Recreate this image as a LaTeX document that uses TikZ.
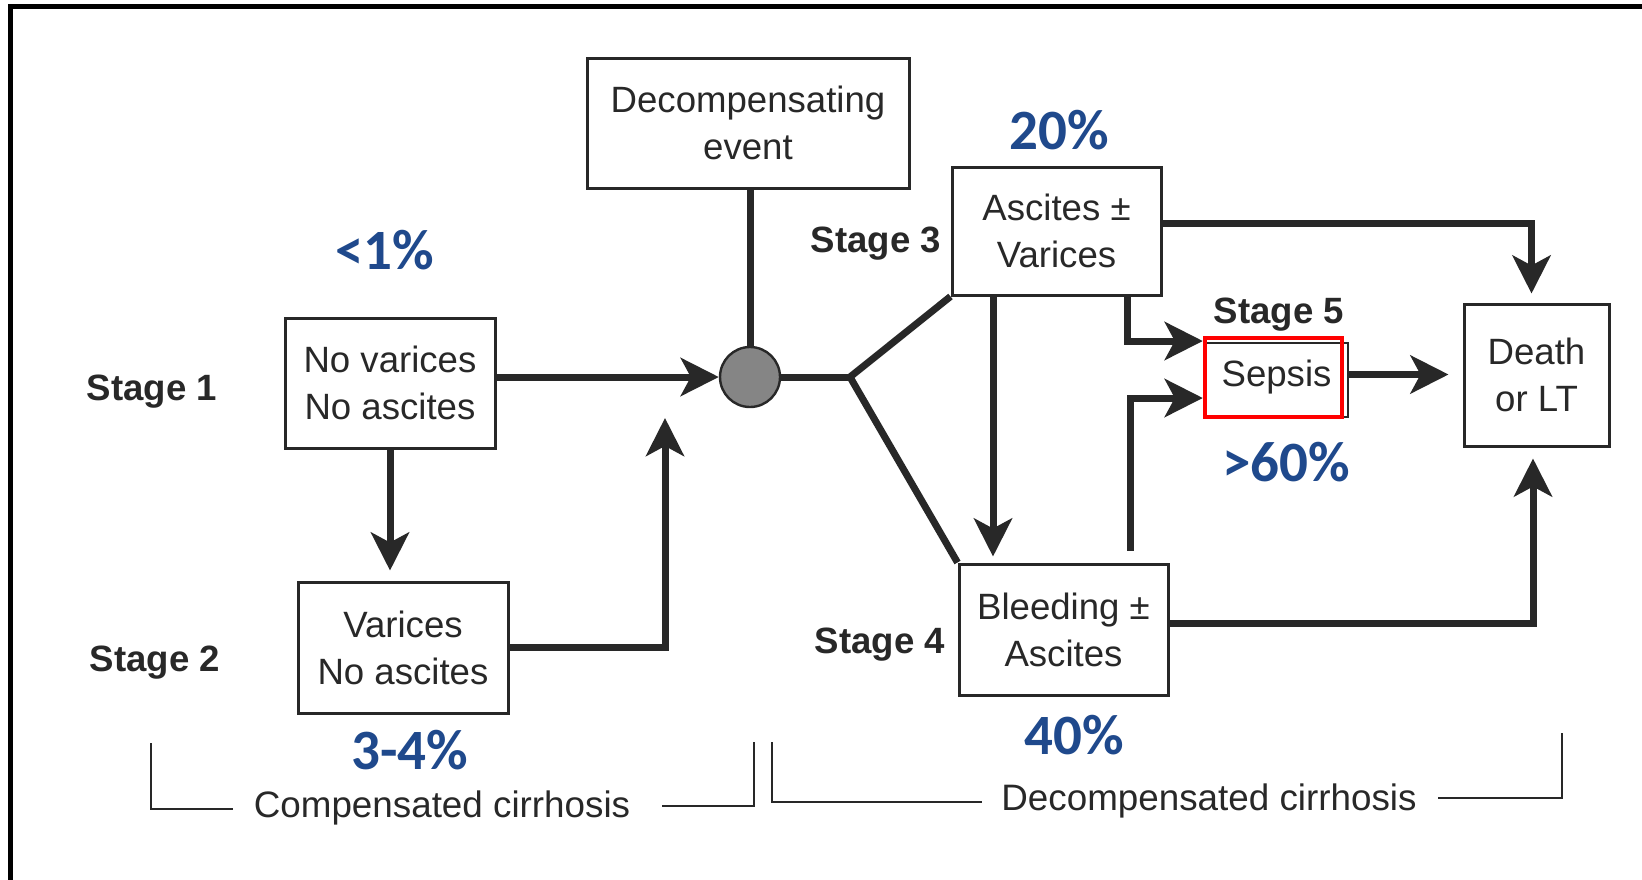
\documentclass[tikz,border=0pt]{standalone}
\usepackage{fontspec}
\setmainfont{Liberation Sans}
\newfontfamily\calib{Carlito}
\usetikzlibrary{arrows.meta}
\definecolor{pctblue}{RGB}{31,73,140}
\definecolor{ink}{RGB}{40,40,40}
\begin{document}
\begin{tikzpicture}[x=0.5pt,y=-0.5pt,
  box/.style 2 args={draw=ink, line width=1.5pt, text=ink, font=\fontsize{18.3}{23.5}\selectfont,
     align=center, inner sep=0pt, minimum width=#1, minimum height=#2},
  conn/.style={draw=ink, line width=3.5pt},
  arr/.style={conn, -{Stealth[length=19pt,width=19pt,inset=5pt]}},
  bracket/.style={draw=ink, line width=1.2pt},
  stagelbl/.style={font=\bfseries\fontsize{18.3}{22}\selectfont, text=ink, inner sep=0pt},
  pct/.style={font=\calib\bfseries\fontsize{28.5}{30}\selectfont, text=pctblue, inner sep=0pt},
  brtext/.style={font=\fontsize{18.4}{22}\selectfont, text=ink, inner sep=0pt}
]
\useasboundingbox (0,0) rectangle (1642,879);
\fill[white] (0,0) rectangle (1642,879);
% frame
\draw[line width=2.5pt, black] (10.5,900) -- (10.5,6.5) -- (1670,6.5);

% boxes
\node[box={161pt}{65pt}] (dec) at (748,123) {Decompensating\\event};
\node[box={105pt}{65pt}] (nov) at (390,383) {No varices\\No ascites};
\node[box={105pt}{65.5pt}] (var) at (403,647.5) {Varices\\No ascites};
\node[box={104.5pt}{64pt}] (asc) at (1056.5,231) {Ascites ±\\Varices};
\node[box={104.5pt}{65.5pt}] (bleed) at (1063.5,629.5) {Bleeding ±\\Ascites};
\node[box={72.5pt}{71pt}] (death) at (1536.5,375) {Death\\or LT};
\node[box={71.5pt}{37pt}, line width=1.2pt] (sepsisbg) at (1276.5,380) {};
\node[draw=red, line width=2.2pt, minimum width=68.5pt, minimum height=39.5pt, inner sep=0pt,
      text=ink, font=\fontsize{18.3}{22}\selectfont] (sepsis) at (1273.5,377.5) {\hspace*{3pt}Sepsis};

% junction
\node[circle, draw=ink, fill=black!48, line width=1.2pt, minimum size=30pt, inner sep=0pt] (circ) at (750,377) {};
\coordinate (br) at (850,377);
\coordinate (varup) at (665,418);

% connectors
\draw[arr] (nov.east |- circ.west) -- (circ.west);
\draw[conn] (dec.south -| circ.north) -- (circ.north);
\draw[conn] (circ.east) -- (br);
\draw[conn] (br) -- (asc.south west);
\draw[conn] (br) -- (bleed.north west);
\draw[arr, shorten >=5pt] (nov.south) -- (nov.south |- var.north);
\draw[arr] (var.east) -- (varup |- var.east) -- (varup);
\draw[arr, shorten >=3pt] ([xshift=-31.75pt]asc.south) -- ([xshift=-31.75pt]asc.south |- bleed.north);
\draw[arr, shorten >=4.5pt] ([yshift=4pt]asc.east) -| ([xshift=-2.5pt]death.north);
\draw[arr] ([xshift=35.25pt]asc.south) |- ([yshift=18.25pt]sepsis.west);
\draw[arr] ([xshift=33.25pt,yshift=6pt]bleed.north) |- ([yshift=-10.25pt]sepsis.west);
\draw[arr, shorten >=7pt] ([yshift=2.75pt]sepsisbg.east) -- ([yshift=2.75pt]sepsisbg.east -| death.west);
\draw[arr, shorten >=5.5pt] ([yshift=3.25pt]bleed.east) -| ([xshift=-1.75pt]death.south);

% stage labels
\node[stagelbl] (s1) at (152,392) {Stage 1};
\node[stagelbl] (s2) at (155,663) {Stage 2};
\node[stagelbl] (s3) at (876,244) {Stage 3};
\node[stagelbl] (s4) at (880,645) {Stage 4};
\node[stagelbl] (s5) at (1279,315) {Stage 5};

% percentages
\node[pct] (p1) at (385,250) {<1\%};
\node[pct] (p2) at (410,750) {3-4\%};
\node[pct] (p3) at (1059,130) {20\%};
\node[pct] (p4) at (1074,735) {40\%};
\node[pct] (p5) at (1286,462) {>60\%};

% brackets
\node[brtext] (comp) at (442,808) {Compensated cirrhosis};
\node[brtext] (decomp) at (1209,801) {Decompensated cirrhosis};
\draw[bracket] (151,743) -- (151,809) -- (233,809);
\draw[bracket] (662,806) -- (754,806) -- (754,742);
\draw[bracket] (772,742) -- (772,802) -- (982,802);
\draw[bracket] (1438,798) -- (1562,798) -- (1562,733);
\end{tikzpicture}
\end{document}
